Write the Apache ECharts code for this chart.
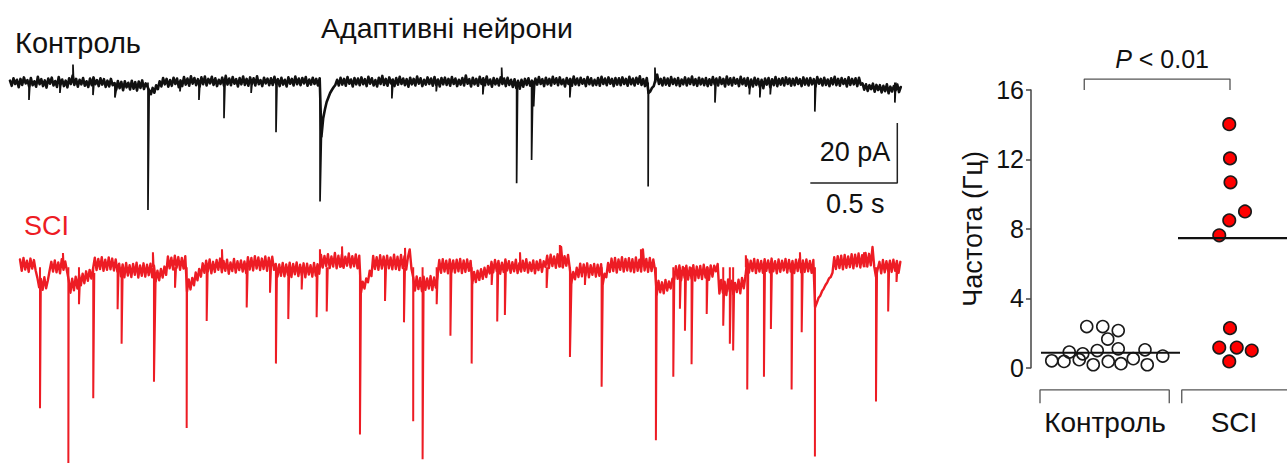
<!DOCTYPE html>
<html>
<head>
<meta charset="utf-8">
<script src="https://cdn.jsdelivr.net/npm/echarts@6/dist/echarts.min.js"></script>
<style>
  html, body { margin: 0; padding: 0; background: #ffffff; }
  #chart { width: 1287px; height: 466px; }
</style>
</head>
<body>
<div id="chart"></div>
<script>
// ---------------- recorded currents (pA), one sample every SAMPLE_DT seconds ----------------
const SAMPLE_DT = 0.01;

// control neuron: baseline noise
const controlBand = [
  0.6,-1.1,1.4,-0.5,0.9,-1.6,1.2,-0.8,1.7,-0.3,0.8,-1.3,1.5,-0.9,0.4,-1.4,1.9,-0.6,1.1,-1.2,
  0.7,-1.7,1.3,-0.4,1.6,-1,0.5,-1.5,1.8,-0.7,1,-1.2,0.6,-1.6,1.4,-0.5,2.3,-0.8,1.2,-1.4,
  0.9,-0.6,1.5,-1.1,0.4,-1.5,1.3,-0.9,1.7,-0.6,
  0.8,-1.2,1.4,-0.7,1.1,-1.5,0.6,-1.3,1.2,-0.9,-0.2,-2.4,0.5,-1.9,0.2,-2.6,0.4,-1.6,-0.1,-2.3,
  0.6,-2.1,0.1,-2.7,0.3,-1.8,0.7,-2.2,-0.3,-1.4,-2.6,-3.9,-1.8,-3.4,-0.9,-2.2,0.4,-1.3,1.5,-0.6,
  1.2,-1.4,0.8,-1.1,1.6,-0.5,1.3,-1.6,0.7,-1.2,
  1.8,-0.7,1.3,-1.1,2.1,-0.4,1.5,-0.9,1.1,-1.3,1.7,-0.6,2,-1,1.2,-0.3,1.9,-0.8,1.4,-1.2,
  0.9,-0.5,1.6,-1.1,2.2,-0.7,1.3,-0.9,1.8,-0.4,1.1,-1.3,1.5,-0.6,2,-0.8,1.2,-1.1,1.7,-0.5,
  1.4,-1,2.1,-0.6,0.8,-1.2,1.6,-0.3,1.3,-0.9,
  1.4,-0.8,1.9,-0.5,1.1,-1.2,1.6,-0.7,0.9,-1.3,1.7,-0.4,1.2,-1,2,-0.6,1.3,-0.9,1.5,-0.3,
  1.8,-1.1,1,-0.7,1.6,-0.5,1.2,-1,1.4,-18,-12,-9,-6.5,-5,-3.5,-2.5,-1.6,-0.8,0.9,-1,
  1.6,-0.7,1.2,-1.1,1.8,-0.4,1,-1.3,1.5,-0.6,
  1.3,-0.9,1.7,-0.6,1.1,-1.2,1.9,-0.4,1.4,-1,0.8,-1.3,1.6,-0.5,2.2,-0.8,1.2,-1.1,1.7,-0.3,
  1,-1.2,1.5,-0.7,1.9,-0.5,1.3,-0.9,1.1,-1.4,1.6,-0.6,1.2,-1,2,-0.4,1.4,-1.2,0.9,-0.7,
  1.7,-0.5,1.3,-1.1,1.8,-0.8,1,-1.3,1.5,-0.6,
  1.6,-0.8,1.2,-1.1,1.8,-0.5,1.3,-1.2,0.9,-0.7,1.5,-1,2.3,-0.4,1.1,-1.3,1.6,-0.6,1.2,-1.1,
  1.9,-0.5,1.4,-0.9,2,-0.7,1,-1.4,1.5,-0.6,1.2,-1,1.7,-0.5,1.3,-1.2,1.6,-0.8,0.9,-1.5,
  1.1,-1.8,0.6,-2.1,0.9,-1.4,1.2,-0.8,1.4,-1.1,
  0.6,-1.4,1.3,-0.7,1.8,-0.5,1.1,-1.2,1.6,-0.6,1.2,-1,1.9,-0.4,1.4,-0.9,1.7,-0.6,1,-1.3,
  1.5,-0.5,1.2,-1.1,2,-0.7,1.3,-0.9,1.6,-0.4,1.1,-1.2,1.8,-0.6,1.4,-1,0.9,-0.8,1.5,-1.1,
  1.9,-0.5,1.3,-0.9,1.7,-0.4,1.2,-1.2,1.5,-0.7,
  1.4,-0.9,1.7,-0.5,1.2,-1.1,1.9,-0.6,1.3,-1,1.6,-0.4,2.1,-0.8,1.1,-1.2,1.5,-3.5,-3,-1.8,
  -1.2,0.9,2.6,-0.5,1.2,-1,1.6,-0.7,1.3,-1.1,1.8,-0.5,1.2,-0.9,1.5,-1.2,1,-0.6,1.7,-1,
  1.3,-0.5,2,-0.8,1.1,-1.1,1.6,-0.6,1.2,-0.9,
  1.5,-1.2,1.1,-0.8,1.8,-0.6,1.3,-1,1.7,-0.5,1.2,-1.3,2,-0.7,1.4,-1,1.6,-0.4,1.1,-1.2,
  1.9,-0.6,1.3,-1.1,1.5,-1.7,1,-1.3,1.6,-0.8,1.2,-1.5,0.9,-1.9,1.3,-0.7,1.5,-1.6,1.1,-0.9,
  1.8,-1.2,1.2,-0.7,1.4,-1,1.7,-0.5,1.3,-1.1,
  1.2,-0.9,1.6,-0.5,1.1,-1.2,1.7,-0.7,1.3,-1,1.5,-0.6,1.1,-1.3,1.8,-0.4,1.2,-1,1.6,-0.8,
  1,-1.2,1.4,-0.6,1.9,-0.9,1.2,-1.1,1.5,-0.5,1.1,-1.3,1.7,-0.8,1.2,-0.6,1.4,-1.2,1.6,-0.7,
  -0.3,-2.4,-0.6,-2.8,-0.9,-2.2,-0.4,-3.1,-0.8,-2.5,
  -0.9,-3.3,-1.1,-2.9,-0.6,-3.6,-1.4,-3,-1.2,-2.6,-0.7,-3.2,-1.5
];

// SCI neuron: baseline noise
const sciBand = [
  2.6,-1.2,3.1,-0.8,2.2,-1.6,2.9,-0.5,2.4,-1.1,-3.6,-6.8,-4,-7.6,-3.4,-7.1,-4.5,-1.2,1.8,-1.5,
  2.3,-1.7,1.6,-2.1,2.7,-0.9,1.9,-1.3,-4.3,-8.6,-3.9,-7.8,-3.2,-7.2,-2.6,-6.1,-2.2,-5.4,-1.4,-4.6,
  -0.9,-3.8,-0.4,3.2,-1,2.8,-0.6,3.4,-1.2,2.5,
  -0.9,3.3,-0.7,2.9,-1.1,2.6,-1.5,1.2,-3.1,0.9,-3.4,1.4,-2.8,0.7,-3.3,1.1,-2.6,1.5,-3.5,0.6,
  -2.9,1.3,-3.2,0.8,-2.7,1.2,-3.4,0.5,-4.8,-1.2,-4.4,-0.6,-3.5,0.2,-2.6,3.6,-0.4,3.2,-0.8,3.9,
  -0.2,3.4,-0.9,3.1,-0.5,3.7,-8.2,-4.1,-7.5,-3.6,
  -6.1,-1.8,-4.4,-0.6,-3.2,1.3,-1.9,2.2,-1.4,2.6,-2.1,1.8,-1.6,2.4,-0.9,2.9,-1.7,2.1,-1.2,2.5,
  -2.2,1.6,-1.3,2.8,-1.8,2,-1,2.3,-1.5,1.9,-2,3.4,-0.8,3.1,-1.1,3.7,-0.5,3.3,-1,2.9,
  -0.6,3.6,-1.2,3.2,-0.7,3.5,-0.9,1.1,-3.2,0.9,
  -2.9,1.4,-3.1,0.9,-2.6,1.5,-3.3,1.1,-2.4,1.6,-3,0.8,-2.7,1.3,-3.4,1.2,-2.5,0.7,-3.2,1.4,
  -2.8,1,-2.2,4.1,-0.1,3.8,0.4,4.4,-0.3,3.6,0.2,4.8,-0.4,3.9,0.1,4.2,-0.2,3.5,0.5,4.6,
  -0.1,3.7,0.3,4.3,-0.4,3.9,-8.6,-4.9,-7.2,-3.8,
  -5.1,-1.2,-3,3.8,-0.6,3.4,-0.9,4,-0.5,3.6,-0.8,3.9,-0.4,3.3,-0.7,4.2,-0.6,3.5,-1,4.1,
  -0.3,3.7,-0.8,3.4,6,-0.5,-3.4,-7.9,-3.1,-7.4,-3.6,-8.1,-3.2,-7.6,-3.8,-7.2,-3,-7.7,-3.5,-6.9,
  -2.8,2.4,-1.9,2.7,-1.5,2.2,-2.1,2.6,-1.6,2.3,
  -1.8,2.5,-1.4,2.8,-2,2.3,-1.6,2.6,-1.2,2.1,-5.4,-1.6,-5,-1.2,-4.3,-0.7,-3.9,-0.2,-3.3,0.4,
  -2.1,1.8,-1.7,2.4,-1.3,2.1,-2.2,1.5,-1.6,2.6,-1.1,2,-1.9,1.7,-1.4,2.5,-2,1.3,-1.5,2.2,
  -1.2,2.7,-1.8,1.6,-1.3,2.3,-2.1,1.9,-1,2.4,
  -1.6,2,0.1,3.9,-0.3,4.2,0.4,3.6,-0.2,4.4,0.2,6.8,-0.1,3.7,0.5,4.1,-0.4,-5.2,-1.6,-4.1,
  -0.2,-3.3,1.2,-3.1,0.9,-2.8,1.3,-3.4,0.7,-2.6,1.1,-3.2,0.8,-2.9,1,-5.6,-2.2,-3.4,1.4,-1.6,
  2.9,-1.3,3.1,-1.8,2.6,-0.9,3.4,-1.5,2.8,-1.1,
  3,-1.4,2.7,-1.7,3.3,-1.2,2.5,-1.5,6,-1.1,2.8,-1.6,3.1,-1.3,2.6,-0.9,-9.2,-4.6,-8.5,-5.1,
  -8.8,-4.3,-7.9,-4.8,-7.2,-3.9,-4.1,0.3,-3.9,0.6,-4.4,0.1,-3.6,0.5,-4.2,-0.1,-3.8,0.7,-4.5,0.2,
  -3.7,0.4,-4,0.8,-3.5,0,-4.3,0.6,-3.2,0.5,
  -1.4,1.1,-8.9,-4.3,-8.6,-4.9,-9.4,-4.1,-8.2,-4.6,-9.1,-5.3,-8.4,-4.2,-8.8,-3.6,-7.1,-2.9,2.5,-1.8,
  2.2,-1.3,2.8,-2,2.4,-1.5,2.1,-1.9,2.7,-1.2,2.3,-1.7,2.9,-1.4,2,-2.1,2.6,-1.6,2.2,-1.1,
  2.8,-1.8,2.4,-1.5,2.1,-2,2.5,-1.3,2.7,-1.7,
  2.3,-1.6,2.6,-1.4,2.1,-1.9,2.4,-13.5,-12,-10.3,-9.6,-8.1,-7.2,-6,-5.1,-3.8,-3.3,-1.9,3.4,-0.6,
  3.7,-0.3,3.9,-0.7,4.1,-0.2,3.6,0,4.4,-0.4,4.2,0.3,4.6,-0.1,4,0.4,4.8,0.2,4.5,0.6,
  6.8,0.1,-3.2,-0.6,1.8,-2.1,2.4,-1.7,2,-1.3,
  2.2,-1.6,2.5,-1.2,2.1,-1.9,1.8
];

// synaptic events: [onset (s), peak (pA), recovery time (s), current at recovery (pA)]
const controlEvents = [
  [0.109,-5.8,0.006,0],[0.287,-3.5,0.006,0],[0.362,6,0.004,0],[0.477,-4.2,0.006,0],
  [0.603,-5,0.012,-1],[0.793,-42.5,0.007,-2.6],[0.977,-3,0.006,0],[1.086,-5.8,0.006,0],
  [1.23,-11.9,0.006,0],[1.386,-3.5,0.006,0],[1.529,-16.6,0.006,0],[1.782,-39.7,0.008,-18],
  [2.195,-5.3,0.006,0],[2.45,-3,0.006,0],[2.718,-4,0.006,0],[2.826,5,0.004,0],
  [2.912,-33.6,0.006,0],[2.998,-25.8,0.008,0],[3.01,-8,0.006,0],[3.218,-5,0.006,0],
  [3.668,-34.7,0.002,-3.5],[3.707,5,0.004,0],[4.052,-6.7,0.006,0],[4.25,-4,0.006,0],
  [4.31,-5,0.006,0],[4.37,-4,0.006,0],[4.626,-9.7,0.006,0],[5.086,-6.7,0.006,0]
];
const sciEvents = [
  [0.115,-47.5,0.005,-5],[0.247,4.8,0.004,0],[0.278,-66,0.002,-4.3],[0.339,-12.5,0.006,-4],
  [0.421,-44.2,0.006,-2],[0.561,-14.2,0.006,0],[0.584,-25.8,0.006,-2],[0.764,5,0.004,0],
  [0.77,-38.6,0.01,-3],[0.891,-6.9,0.006,0],[0.958,-54.2,0.002,-8.2],[1.073,-18.1,0.006,0],
  [1.161,6,0.004,0],[1.303,-13.6,0.006,0],[1.437,-8.6,0.006,0],[1.471,-32.5,0.006,-1],
  [1.542,-17.5,0.006,0],[1.619,-7.5,0.006,0],[1.705,-16.9,0.006,0],[1.724,6,0.004,0],
  [1.763,-14.9,0.006,0],[1.851,7,0.004,0],[1.954,-56.4,0.006,-8.6],[2.098,-11.4,0.006,0],
  [2.207,-18.6,0.006,0],[2.213,6.5,0.004,0],[2.26,-51.9,0.001,-3.4],[2.314,-64.7,0.006,-5],
  [2.395,-12.5,0.006,-2],[2.474,-23.1,0.006,0],[2.596,-32.5,0.004,-5.4],[2.711,-6,0.006,0],
  [2.743,-18.3,0.006,0],[2.787,-16.1,0.006,0],[2.874,5,0.004,0],[3.027,-7,0.006,0],
  [3.103,7.5,0.004,0],[3.161,-30.3,0.009,-5.2],[3.247,-6,0.006,0],[3.343,-40.3,0.007,-5.6],
  [3.569,6,0.004,0],[3.655,-58.3,0.005,-9.2],[3.755,-36.9,0.006,-3],[3.793,-14,0.006,-2],
  [3.822,-21.4,0.006,-2],[3.86,-32.7,0.006,-2],[3.947,-15.8,0.006,0],[4.042,-19.7,0.006,-6],
  [4.08,-25.8,0.006,-6],[4.099,-28.1,0.006,-6],[4.172,4,0.004,0],[4.18,-41.2,0.006,0],
  [4.276,-36.9,0.006,0],[4.316,-20.8,0.006,0],[4.435,-41.2,0.006,0],[4.483,5,0.004,0],
  [4.493,-21.9,0.006,0],[4.569,-63.8,0.001,-13.5],[4.851,5,0.004,0],[4.92,-45.3,0.006,-2],
  [4.99,-14.9,0.006,0],[5.038,-5,0.006,0]
];

// scale bar sizes
const scaleBarTime = 0.5;     // s
const scaleBarCurrent = 20;   // pA

// ---------------- event frequency per neuron (Hz) ----------------
const groups = ['Контроль', 'SCI'];
const controlFreq = [2.37,2.37,2.14,1.65,0.90,0.80,0.99,1.09,1.03,0.67,0.40,0.36,0.46,0.17,0.36,0.23,0.52,0.17];
const sciFreq = [14.03,12.06,10.68,9.0,8.49,7.63,2.28,1.16,1.16,0.99,0.36];
const controlMedian = 0.86;
const sciMedian = 7.47;
const freqTicks = [0, 4, 8, 12, 16];
const pText = '< 0.01';

// ---------------- layout ----------------
const FONT = "'Liberation Sans', Arial, Helvetica, sans-serif";
// horizontal spread of the dots around each group centre (group units)
const controlSpread = [-0.146,-0.018,0.106,0.022,-0.286,-0.178,-0.062,0.106,0.32,0.462,-0.426,-0.328,-0.206,-0.094,0.026,0.128,0.226,0.338];
const sciSpread = [-0.006,0,0.004,0.12,-0.006,-0.086,0,-0.086,0.054,0.174,-0.006];
const scaleBarCorner = [5.1, -33.5];       // s, pA in the control panel
const medianSpan = [[-0.512, 0.6], [0.584, 1.5]];
const topBracket = { x: [-0.166, 1.0], y: [16.0, 16.63] };
const groupBracket = { y: [-2.05, -1.28], spans: [[-0.52, 0.514], [0.614, 1.6]] };

const chart = echarts.init(document.getElementById('chart'), null, { renderer: 'svg' });

function bandSeries(values, idx, color, width) {
  return {
    type: 'line', xAxisIndex: idx, yAxisIndex: idx, symbol: 'none', silent: true,
    data: values.map((v, i) => [i * SAMPLE_DT, v]),
    lineStyle: { color: color, width: width, join: 'round', cap: 'round' }, z: 2
  };
}
function spikeSeries(events, idx, color, width) {
  return {
    type: 'custom', xAxisIndex: idx, yAxisIndex: idx, silent: true, clip: false, z: 3,
    data: events,
    renderItem: function (params, api) {
      const t = api.value(0), pk = api.value(1), d = api.value(2), e = api.value(3);
      return {
        type: 'polyline',
        shape: { points: [api.coord([t, 0]), api.coord([t, pk]), api.coord([t + d, e])] },
        style: { stroke: color, lineWidth: width, fill: null }
      };
    }
  };
}
function plainLine(points, color, width, z) {
  return {
    type: 'line', xAxisIndex: 2, yAxisIndex: 2, symbol: 'none', silent: true, clip: false,
    data: points, lineStyle: { color: color, width: width }, z: z
  };
}

const BLACK = '#111111';
const RED = '#ed1c24';

const option = {
  animation: false,
  backgroundColor: '#ffffff',
  grid: [
    { left: 10, top: 52.5, width: 896, height: 165 },
    { left: 20, top: 237.5, width: 896, height: 231 },
    { left: 1031, top: 90, width: 256, height: 277.7 }
  ],
  xAxis: [
    { type: 'value', gridIndex: 0, min: 0, max: 5.15, show: false },
    { type: 'value', gridIndex: 1, min: 0, max: 5.15, show: false },
    { type: 'value', gridIndex: 2, min: -0.592, max: 1.456, show: false }
  ],
  yAxis: [
    { type: 'value', gridIndex: 0, min: -45, max: 10, show: false },
    { type: 'value', gridIndex: 1, min: -67, max: 10, show: false },
    {
      type: 'value', gridIndex: 2, min: 0, max: 16, interval: 4,
      name: 'Частота (Гц)', nameLocation: 'middle', nameRotate: 90, nameGap: 45,
      nameTextStyle: { fontFamily: FONT, fontSize: 27, color: '#111' },
      axisLine: { show: true, onZero: false, lineStyle: { color: '#444', width: 1.5 } },
      axisTick: { show: true, length: 5, lineStyle: { color: '#444', width: 1.5 } },
      axisLabel: {
        fontFamily: FONT, fontSize: 25, color: '#111', margin: 7,
        formatter: v => (freqTicks.indexOf(v) >= 0 ? String(v) : '')
      },
      splitLine: { show: false }
    }
  ],
  series: [
    bandSeries(controlBand, 0, BLACK, 2.6),
    spikeSeries(controlEvents, 0, BLACK, 1.7),
    bandSeries(sciBand, 1, RED, 2.4),
    spikeSeries(sciEvents, 1, RED, 2),
    // scale bar
    {
      type: 'line', xAxisIndex: 0, yAxisIndex: 0, symbol: 'none', silent: true, clip: false,
      data: [
        [scaleBarCorner[0] - scaleBarTime, scaleBarCorner[1]],
        [scaleBarCorner[0], scaleBarCorner[1]],
        [scaleBarCorner[0], scaleBarCorner[1] + scaleBarCurrent]
      ],
      lineStyle: { color: '#222', width: 1.5 }
    },
    // frequency dots
    {
      type: 'scatter', xAxisIndex: 2, yAxisIndex: 2, symbol: 'circle', symbolSize: 12, z: 4,
      data: controlFreq.map((v, i) => [0 + controlSpread[i], v]),
      itemStyle: { color: 'rgba(255,255,255,0)', borderColor: '#1a1a1a', borderWidth: 1.6, opacity: 1 }
    },
    {
      type: 'scatter', xAxisIndex: 2, yAxisIndex: 2, symbol: 'circle', symbolSize: 12.5, z: 4,
      data: sciFreq.map((v, i) => [1 + sciSpread[i], v]),
      itemStyle: { color: '#ff0000', borderColor: '#1a1a1a', borderWidth: 1.6, opacity: 1 }
    },
    // medians
    plainLine([[medianSpan[0][0], controlMedian], [medianSpan[0][1], controlMedian]], '#111', 2.2, 6),
    plainLine([[medianSpan[1][0], sciMedian], [medianSpan[1][1], sciMedian]], '#111', 2.2, 6),
    // significance bracket
    plainLine([[topBracket.x[0], topBracket.y[0]], [topBracket.x[0], topBracket.y[1]],
               [topBracket.x[1], topBracket.y[1]], [topBracket.x[1], topBracket.y[0]]], '#555', 1.3, 5),
    // group brackets
    plainLine([[groupBracket.spans[0][0], groupBracket.y[0]], [groupBracket.spans[0][0], groupBracket.y[1]],
               [groupBracket.spans[0][1], groupBracket.y[1]], [groupBracket.spans[0][1], groupBracket.y[0]]], '#555', 1.3, 5),
    plainLine([[groupBracket.spans[1][0], groupBracket.y[0]], [groupBracket.spans[1][0], groupBracket.y[1]],
               [groupBracket.spans[1][1], groupBracket.y[1]]], '#555', 1.3, 5)
  ]
};
chart.setOption(option);

// text placed from the axes' own coordinate conversion
const toPx = (idx, p) => chart.convertToPixel({ xAxisIndex: idx, yAxisIndex: idx }, p);
const corner = toPx(0, scaleBarCorner);
const g0 = toPx(2, [0, groupBracket.y[0]]);
const g1 = toPx(2, [1, groupBracket.y[0]]);
const bracketTop = toPx(2, [(topBracket.x[0] + topBracket.x[1]) / 2, topBracket.y[1]]);

function label(text, x, y, align, color, size) {
  return {
    type: 'text', silent: true, z: 10,
    style: { text: text, x: x, y: y, align: align, verticalAlign: 'middle',
             fill: color || '#111', font: (size || 28) + 'px ' + FONT }
  };
}

chart.setOption({
  graphic: [
    label('Адаптивні нейрони', 447, 28, 'center', '#111', 28.5),
    label('Контроль', 15, 43, 'left', '#111', 29),
    label('SCI', 24, 226, 'left', RED, 27),
    label('20 pA', corner[0] - 7, corner[1] - 31, 'right', '#111', 27),
    label('0.5 s', corner[0] - 42, corner[1] + 21, 'center', '#111', 27),
    label(groups[0], g0[0], g0[1] + 19, 'center', '#111', 28),
    label(groups[1], g1[0] + 4, g1[1] + 19, 'center', '#111', 28),
    {
      type: 'text', silent: true, z: 10,
      style: {
        x: bracketTop[0] + 5, y: bracketTop[1] - 20, align: 'center', verticalAlign: 'middle',
        text: '{i|P}{n| ' + pText + '}',
        rich: {
          i: { fontFamily: FONT, fontSize: 25, fontStyle: 'italic', fill: '#111' },
          n: { fontFamily: FONT, fontSize: 25, fill: '#111' }
        }
      }
    }
  ]
});
</script>
</body>
</html>
